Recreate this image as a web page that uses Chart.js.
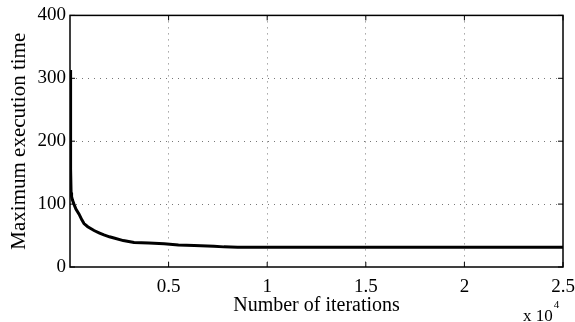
<!DOCTYPE html>
<html>
<head>
<meta charset="utf-8">
<script src="https://cdn.jsdelivr.net/npm/chart.js@4.4.1/dist/chart.umd.min.js"></script>
<style>
    html, body { margin: 0; padding: 0; background: #fff; }
    #wrap { width: 575px; height: 322px; }
</style>
</head>
<body>
<div id="wrap"><canvas id="execChart"></canvas></div>
<script>
// Dados (iterações x tempo máximo de execução)
const iterations = [0, 20, 40, 55, 80, 130, 200, 300, 460, 600, 710, 900, 1220, 1500, 1720, 2000, 2230, 2700, 3250, 4000, 4770, 5500, 6300, 7300, 7800, 8500, 10000, 15000, 20000, 25000];
const maxTime = [313, 160, 156, 118, 112, 106, 100, 92, 84, 75, 69, 64, 58, 54, 51, 48, 46, 42, 39, 38, 37, 35, 34, 33, 32, 31.5, 31.5, 31.5, 31.5, 31.5];
const xTicks = [5000, 10000, 15000, 20000, 25000];
const yTicks = [0, 100, 200, 300, 400];

const serif = '"Liberation Serif", "Times New Roman", serif';

// Caixa preta em volta da área do gráfico + rótulo "x 10^4"
const boxPlugin = {
    id: 'matlabBox',
    afterDraw(chart) {
        const { ctx, chartArea: a } = chart;
        ctx.save();
        ctx.strokeStyle = '#000';
        ctx.lineWidth = 1.5;
        ctx.strokeRect(a.left, a.top, a.right - a.left, a.bottom - a.top);

        // marcas internas (estilo MATLAB)
        ctx.lineWidth = 1;
        const xs = chart.scales.x, ys = chart.scales.y;
        xTicks.forEach(v => {
            const px = xs.getPixelForValue(v);
            ctx.beginPath();
            ctx.moveTo(px, a.bottom); ctx.lineTo(px, a.bottom - 5);
            ctx.moveTo(px, a.top); ctx.lineTo(px, a.top + 5);
            ctx.stroke();
        });
        yTicks.forEach(v => {
            const py = ys.getPixelForValue(v);
            ctx.beginPath();
            ctx.moveTo(a.left, py); ctx.lineTo(a.left + 5, py);
            ctx.moveTo(a.right, py); ctx.lineTo(a.right - 5, py);
            ctx.stroke();
        });

        ctx.fillStyle = '#000';
        ctx.textBaseline = 'alphabetic';
        ctx.textAlign = 'left';
        ctx.font = '17px ' + serif;
        ctx.fillText('x 10', 523, 321);
        const w = ctx.measureText('x 10').width;
        ctx.font = '11px ' + serif;
        ctx.fillText('4', 523 + w + 1, 308);
        ctx.restore();
    }
};

new Chart(document.getElementById('execChart'), {
    type: 'line',
    data: {
        datasets: [{
            label: 'Maximum execution time',
            data: iterations.map((x, i) => ({ x: x, y: maxTime[i] })),
            borderColor: '#000',
            borderWidth: 3,
            pointRadius: 0,
            tension: 0,
            fill: false
        }]
    },
    options: {
        responsive: true,
        maintainAspectRatio: false,
        animation: false,
        layout: { padding: { top: 13, right: 12, left: 0, bottom: 0 } },
        plugins: {
            legend: { display: false },
            tooltip: { enabled: false }
        },
        scales: {
            x: {
                type: 'linear',
                min: 0,
                max: 25000,
                afterBuildTicks: (axis) => { axis.ticks = [0].concat(xTicks).map(v => ({ value: v })); },
                afterFit: (axis) => {
                    axis.height = 55;
                    axis.paddingLeft = 0;
                    axis.paddingRight = 0;
                },
                ticks: {
                    color: '#000',
                    font: { family: serif, size: 19 },
                    padding: 9,
                    maxRotation: 0,
                    callback: (v) => v === 0 ? '' : String(v / 10000)
                },
                grid: {
                    color: (c) => (c.tick.value === 0 || c.tick.value === 25000) ? 'rgba(0,0,0,0)' : '#777',
                    lineWidth: 1,
                    tickLength: 0,
                    drawTicks: false
                },
                border: { display: false, dash: [1, 5] },
                title: {
                    display: true,
                    text: 'Number of iterations',
                    color: '#000',
                    font: { family: serif, size: 20 },
                    padding: { top: 0, bottom: 4 }
                }
            },
            y: {
                min: 0,
                max: 400,
                afterBuildTicks: (axis) => { axis.ticks = yTicks.map(v => ({ value: v })); },
                afterFit: (axis) => { axis.width = 70; },
                ticks: {
                    color: '#000',
                    font: { family: serif, size: 19 },
                    padding: 4
                },
                grid: {
                    color: (c) => (c.tick.value === 0 || c.tick.value === 400) ? 'rgba(0,0,0,0)' : '#777',
                    lineWidth: 1,
                    drawTicks: false
                },
                border: { display: false, dash: [1, 5] },
                title: {
                    display: true,
                    text: 'Maximum execution time',
                    color: '#000',
                    font: { family: serif, size: 21 },
                    padding: { top: 7, bottom: 0 }
                }
            }
        }
    },
    plugins: [boxPlugin]
});
</script>
</body>
</html>
